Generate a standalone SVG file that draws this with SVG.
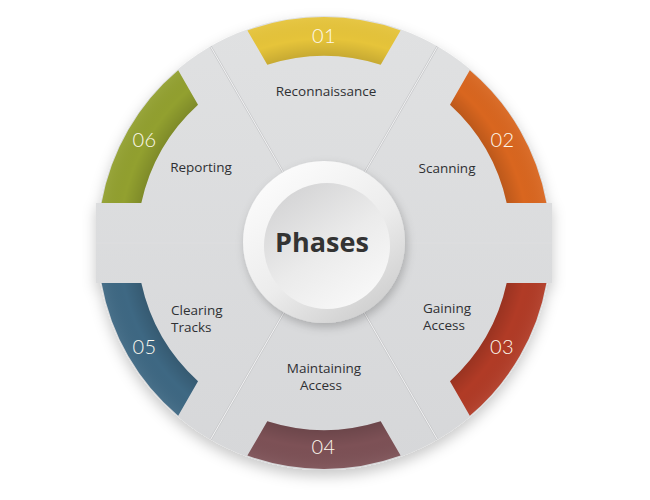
<svg xmlns="http://www.w3.org/2000/svg" width="650" height="500" viewBox="0 0 650 500">
  <style>
    .lbl { font-family: "Open Sans", "Liberation Sans", sans-serif; font-size: 13.5px; fill: #2f3033; }
    .num { font-family: Lato, "Open Sans", sans-serif; font-weight: 300; font-size: 20px; fill: #fdf9ee; text-anchor: middle; letter-spacing: 0.5px; }
    .mid { text-anchor: middle; }
    .spoke-d { stroke: #c6c7c9; stroke-width: 2.2; fill: none; }
    .spoke-l { stroke: #f3f3f4; stroke-width: 1; fill: none; }
    .shade { fill: url(#bandShade); }
  </style>
  <defs>
    <filter id="discShadow" x="-20%" y="-20%" width="140%" height="140%">
      <feDropShadow dx="0" dy="6" stdDeviation="7" flood-color="#000" flood-opacity="0.22"/>
    </filter>
    <filter id="btnShadow" x="-30%" y="-30%" width="160%" height="160%">
      <feDropShadow dx="2" dy="4" stdDeviation="5" flood-color="#000" flood-opacity="0.22"/>
    </filter>
    <linearGradient id="discFill" gradientUnits="userSpaceOnUse" x1="0" y1="16" x2="0" y2="470">
      <stop offset="0" stop-color="#e0e1e2"/>
      <stop offset="1" stop-color="#d6d7d9"/>
    </linearGradient>
    <radialGradient id="bandShade" gradientUnits="userSpaceOnUse" cx="324" cy="243" r="227">
      <stop offset="0.82" stop-color="#000" stop-opacity="0.14"/>
      <stop offset="0.9" stop-color="#000" stop-opacity="0"/>
      <stop offset="1" stop-color="#fff" stop-opacity="0.06"/>
    </radialGradient>
    <linearGradient id="btnOuter" x1="0.2" y1="0.1" x2="0.8" y2="0.95">
      <stop offset="0" stop-color="#fbfbfb"/>
      <stop offset="0.55" stop-color="#ececec"/>
      <stop offset="1" stop-color="#cfcfcf"/>
    </linearGradient>
    <linearGradient id="btnInner" x1="0.2" y1="0.1" x2="0.8" y2="0.95">
      <stop offset="0" stop-color="#d6d6d7"/>
      <stop offset="0.5" stop-color="#ebebeb"/>
      <stop offset="1" stop-color="#f8f8f8"/>
    </linearGradient>
    <path id="b1" d="M 247.4 30.4 A 226 226 0 0 1 400.6 30.4 L 380.7 64.8 A 187 187 0 0 0 267.3 64.8 Z"/>
    <path id="b2" d="M 469.8 70.3 A 226 226 0 0 1 546.4 203 L 506.7 203 A 187 187 0 0 0 450 104.8 Z"/>
    <path id="b3" d="M 546.4 283 A 226 226 0 0 1 469.8 415.7 L 450 381.2 A 187 187 0 0 0 506.7 283 Z"/>
    <path id="b4" d="M 400.6 455.6 A 226 226 0 0 1 247.4 455.6 L 267.3 421.2 A 187 187 0 0 0 380.7 421.2 Z"/>
    <path id="b5" d="M 178.2 415.7 A 226 226 0 0 1 101.6 283 L 141.3 283 A 187 187 0 0 0 198 381.2 Z"/>
    <path id="b6" d="M 101.6 203 A 226 226 0 0 1 178.2 70.3 L 198 104.8 A 187 187 0 0 0 141.3 203 Z"/>
  </defs>

  <g id="disc" filter="url(#discShadow)" fill="url(#discFill)">
    <circle cx="324" cy="243" r="227"/>
    <rect x="96" y="203" width="456" height="80"/>
  </g>

  <g id="dividers">
    <line class="spoke-d" x1="324" y1="243" x2="437.5" y2="46.4"/>
    <line class="spoke-d" x1="324" y1="243" x2="210.5" y2="46.4"/>
    <line class="spoke-d" x1="324" y1="243" x2="210.5" y2="439.6"/>
    <line class="spoke-d" x1="324" y1="243" x2="437.5" y2="439.6"/>
    <line class="spoke-d" x1="96" y1="243" x2="552" y2="243"/>
    <line class="spoke-l" x1="324" y1="243" x2="437.5" y2="46.4"/>
    <line class="spoke-l" x1="324" y1="243" x2="210.5" y2="46.4"/>
    <line class="spoke-l" x1="324" y1="243" x2="210.5" y2="439.6"/>
    <line class="spoke-l" x1="324" y1="243" x2="437.5" y2="439.6"/>
    <line class="spoke-l" x1="96" y1="243" x2="552" y2="243"/>
  </g>

  <g id="phase1">
    <use href="#b1" fill="#e6c43a"/>
    <use href="#b1" class="shade"/>
    <text class="num" x="324" y="43">01</text>
    <text class="lbl mid" x="326" y="96">Reconnaissance</text>
  </g>
  <g id="phase2">
    <use href="#b2" fill="#d9661f"/>
    <use href="#b2" class="shade"/>
    <text class="num" x="502.5" y="147">02</text>
    <text class="lbl mid" x="447" y="173">Scanning</text>
  </g>
  <g id="phase3">
    <use href="#b3" fill="#b13b26"/>
    <use href="#b3" class="shade"/>
    <text class="num" x="502" y="354">03</text>
    <text class="lbl" x="423" y="313">Gaining</text>
    <text class="lbl" x="423" y="330">Access</text>
  </g>
  <g id="phase4">
    <use href="#b4" fill="#7d5156"/>
    <use href="#b4" class="shade"/>
    <text class="num" x="323.5" y="454">04</text>
    <text class="lbl mid" x="324" y="373">Maintaining</text>
    <text class="lbl mid" x="321" y="390">Access</text>
  </g>
  <g id="phase5">
    <use href="#b5" fill="#3e6883"/>
    <use href="#b5" class="shade"/>
    <text class="num" x="144.5" y="354">05</text>
    <text class="lbl" x="171" y="315">Clearing</text>
    <text class="lbl" x="171" y="332">Tracks</text>
  </g>
  <g id="phase6">
    <use href="#b6" fill="#92a02f"/>
    <use href="#b6" class="shade"/>
    <text class="num" x="144.5" y="147">06</text>
    <text class="lbl mid" x="201" y="172">Reporting</text>
  </g>

  <g id="center">
    <circle cx="324" cy="242" r="81" fill="url(#btnOuter)" filter="url(#btnShadow)"/>
    <circle cx="327" cy="246" r="63" fill="url(#btnInner)"/>
    <text x="322" y="252" text-anchor="middle" font-family="'Open Sans', 'Liberation Sans', sans-serif" font-weight="bold" font-size="27" fill="#333333">Phases</text>
  </g>
</svg>
